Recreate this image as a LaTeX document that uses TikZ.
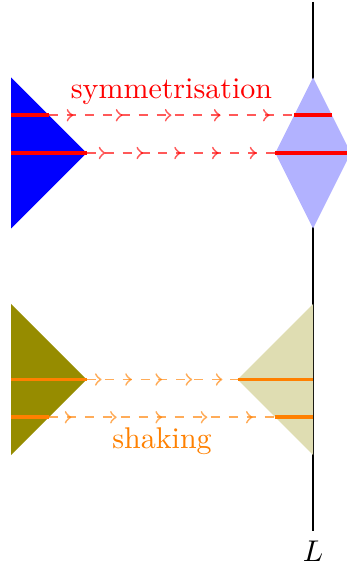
\documentclass[tikz,border=0pt]{standalone}
\usepackage{tikz}
\usetikzlibrary{decorations.markings}
\definecolor{ShakeOlive}{HTML}{968C00}

\begin{document}
\begin{tikzpicture}[x=0.885cm,y=0.885cm,
  chord/.style={line width=1.3pt},
  flow/.style={dashed,semithick,draw opacity=0.65,postaction={decorate},
    decoration={markings,mark=between positions 0.1 and 0.9 step 0.2 with {\arrow{>}}}}]
\useasboundingbox (-0.146,-5.523) rectangle (4.437,2.026);
% the line L
\draw (4,2) coordinate (Ltop) -- (4,-5) node[below] (L) {$L$};
% symmetrisation
\fill[blue] (0,1) -- (1,0) -- (0,-1) -- cycle;
\fill[blue!30] (4,1) -- (4.5,0) -- (4,-1) -- (3.5,0) -- cycle;
\coordinate (a1) at (0,0.5);   \coordinate (a2) at (0.5,0.5);
\coordinate (a3) at (3.75,0.5); \coordinate (a4) at (4.25,0.5);
\coordinate (b1) at (0,0);     \coordinate (b2) at (1,0);
\coordinate (b3) at (3.5,0);   \coordinate (b4) at (4.5,0);
\begin{scope}[red]
  \draw[chord] (a1) -- (a2) (a3) -- (a4) (b1) -- (b2) (b3) -- (b4);
  \draw[flow] (a2) -- node[above] (sym) {symmetrisation} (a3);
  \draw[flow] (b2) -- (b3);
\end{scope}
% shaking
\fill[ShakeOlive] (0,-2) -- (1,-3) -- (0,-4) -- cycle;
\fill[ShakeOlive!30] (4,-2) -- (3,-3) -- (4,-4) -- cycle;
\coordinate (c1) at (0,-3);    \coordinate (c2) at (1,-3);
\coordinate (c3) at (3,-3);    \coordinate (c4) at (4,-3);
\coordinate (d1) at (0,-3.5);  \coordinate (d2) at (0.5,-3.5);
\coordinate (d3) at (3.5,-3.5); \coordinate (d4) at (4,-3.5);
\begin{scope}[orange]
  \draw[chord] (c1) -- (c2) (c3) -- (c4) (d1) -- (d2) (d3) -- (d4);
  \draw[flow] (c2) -- (c3);
  \draw[flow] (d2) -- node[below] (shk) {shaking} (d3);
\end{scope}
\end{tikzpicture}
\end{document}
